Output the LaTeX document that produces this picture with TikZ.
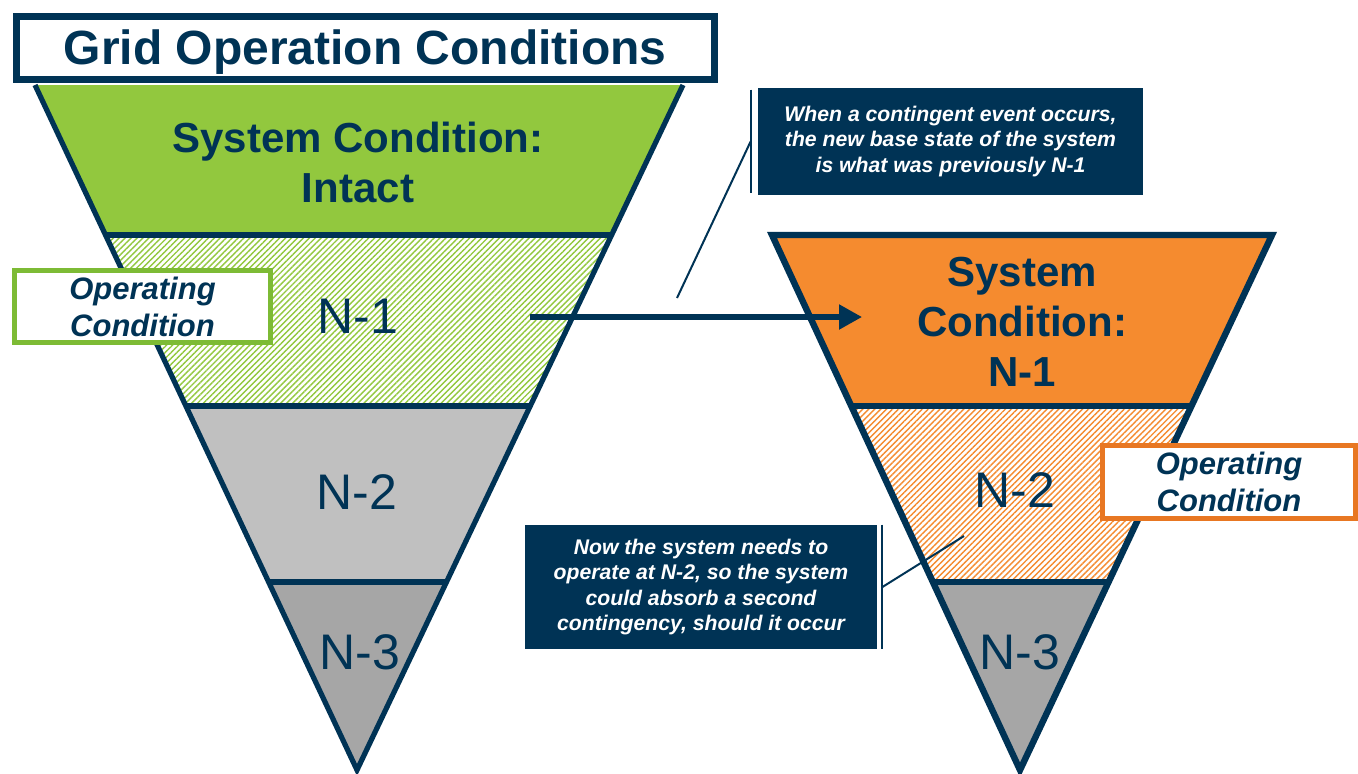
\documentclass[tikz,border=0pt]{standalone}
\usepackage{fontspec}
\setmainfont{Liberation Sans}
\usetikzlibrary{calc,patterns.meta,arrows.meta}
\definecolor{navy}{RGB}{0,51,85}
\definecolor{leafgreen}{RGB}{146,200,62}
\definecolor{framegreen}{RGB}{125,187,53}
\definecolor{tangerine}{RGB}{245,139,47}
\definecolor{frameorange}{RGB}{232,119,34}
\definecolor{lightgrey}{RGB}{192,192,192}
\definecolor{midgrey}{RGB}{166,166,166}
\tikzset{
  band/.style={draw=navy, line width=#1},
  greensolid/.style={fill=leafgreen},
  greenhatch/.style={pattern={Lines[angle=45,distance=2.1pt,line width=0.7pt]}, pattern color=leafgreen},
  orangesolid/.style={fill=tangerine},
  orangehatch/.style={pattern={Lines[angle=45,distance=2.1pt,line width=0.7pt]}, pattern color=tangerine},
  greylight/.style={fill=lightgrey},
  greydark/.style={fill=midgrey},
  opbox/.style={draw=#1, line width=2.5pt, fill=white, inner sep=0pt, align=center,
    text=navy, font=\fontsize{15.5}{18.5}\selectfont\bfseries\itshape},
  note/.style={fill=navy, text=white, inner sep=0pt, align=center,
    font=\fontsize{10.6}{12.75}\selectfont\bfseries\itshape},
  level/.style={text=navy, font=\fontsize{25}{30}\selectfont},
  heading/.style={text=navy, align=center, font=\fontsize{21}{25}\selectfont\bfseries},
  bracket/.style={draw=navy, line width=1pt}
}
\begin{document}
\begin{tikzpicture}[x=0.5pt, y=-0.5pt]
  \useasboundingbox[fill=white] (0,0) rectangle (1358,773);
  % left funnel: intact system
  \coordinate (tl) at (35,85);
  \coordinate (tr) at (683,85);
  \coordinate (tip) at (357,770);
  \foreach \a/\b/\sty in {0/0.219/greensolid, 0.219/0.4686/greenhatch,
      0.4686/0.7255/greylight, 0.7255/1/greydark}
    \path[\sty] ($(tl)!\a!(tip)$) -- ($(tr)!\a!(tip)$) -- ($(tr)!\b!(tip)$) -- ($(tl)!\b!(tip)$) -- cycle;
  \draw[band=2.6pt] (tl) -- (tip) -- (tr);
  \foreach \t in {0.219,0.4686,0.7255}
    \draw[band=2.6pt] ($(tl)!\t!(tip)$) -- ($(tr)!\t!(tip)$);
  % right funnel: after contingency
  \coordinate (rtl) at (772,235);
  \coordinate (rtr) at (1272,235);
  \coordinate (rtip) at (1020,770);
  \foreach \a/\b/\sty in {0/0.3196/orangesolid, 0.3196/0.6486/orangehatch,
      0.6486/1/greydark}
    \path[\sty] ($(rtl)!\a!(rtip)$) -- ($(rtr)!\a!(rtip)$) -- ($(rtr)!\b!(rtip)$) -- ($(rtl)!\b!(rtip)$) -- cycle;
  \draw[band=3.2pt] (rtl) -- (rtip) -- (rtr) -- cycle;
  \foreach \t in {0.3196,0.6486}
    \draw[band=3.2pt] ($(rtl)!\t!(rtip)$) -- ($(rtr)!\t!(rtip)$);
  % labels
  \node (title) at (365,47.5) [draw=navy, line width=3.5pt, fill=white, minimum width=349pt,
    minimum height=31.5pt, inner sep=0pt, text depth=0pt, text=navy,
    font=\fontsize{24}{28}\selectfont\bfseries]
    {Grid Operation Conditions};
  \node (intact) at (358,162) [heading] {System Condition:\\Intact};
  \node (n1L) at (358,316) [level] {N-1};
  \node (n2L) at (357,492) [level] {N-2};
  \node (n3L) at (360,652) [level] {N-3};
  \node (sysR) at (1022,322) [heading] {System\\Condition:\\N-1};
  \node (n2R) at (1015,490) [level] {N-2};
  \node (n3R) at (1020,652) [level] {N-3};
  \node (opL) at (142.5,306.5) [opbox=framegreen, minimum width=128pt, minimum height=36pt]
    {Operating\\Condition};
  \node (opR) at (1229,482) [opbox=frameorange, minimum width=126.5pt, minimum height=36.5pt]
    {Operating\\Condition};
  % callouts
  \node (noteA) at (950.5,141.5) [note, minimum width=192.5pt, minimum height=53.5pt]
    {When a contingent event occurs,\\the new base state of the system\\is what was previously N-1};
  \node (noteB) at (701,587) [note, minimum width=176pt, minimum height=62pt]
    {Now the system needs to\\operate at N-2, so the system\\could absorb a second\\contingency, should it occur};
  \coordinate (pA) at (677,298);
  \coordinate (pB) at (964,536);
  \draw[bracket] ([xshift=-3.5pt,yshift=-1pt]noteA.north west) -- ([xshift=-3.5pt,yshift=1pt]noteA.south west);
  \draw[bracket] ([xshift=-3.5pt]noteA.west) -- (pA);
  \draw[bracket] ([xshift=2.5pt]noteB.north east) -- ([xshift=2.5pt]noteB.south east);
  \draw[bracket] ([xshift=2.5pt]noteB.east) -- (pB);
  % transition arrow
  \coordinate (arrS) at (530,317);
  \coordinate (arrE) at (862,317);
  \draw[navy, line width=2.6pt, -{Triangle[length=11.5pt,width=12pt]}] (arrS) -- (arrE);
\end{tikzpicture}
\end{document}
